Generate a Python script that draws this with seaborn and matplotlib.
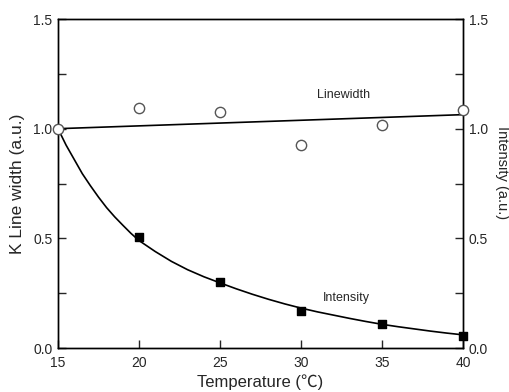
import numpy as np
import pandas as pd
import matplotlib
matplotlib.use("Agg")
import matplotlib.pyplot as plt
from matplotlib.ticker import MultipleLocator
import seaborn as sns

# measured points
temps = [15, 20, 25, 30, 35, 40]
linewidth = [1.00, 1.093, 1.076, 0.924, 1.017, 1.084]
intensity = [1.00, 0.508, 0.302, 0.169, 0.109, 0.056]

# fitted lines
lw_fit_t = [15, 40]
lw_fit = [1.00, 1.064]
int_fit_t = [15, 15.5, 16, 16.5, 17, 17.5, 18, 18.5, 19, 19.5, 20, 21, 22, 23, 24,
             25, 26, 27, 28, 29, 30, 31, 32, 33, 34, 35, 36, 37, 38, 39, 40]
int_fit = [1.00, 0.925, 0.86, 0.795, 0.74, 0.688, 0.64, 0.598, 0.56, 0.523, 0.49,
           0.44, 0.395, 0.357, 0.325, 0.297, 0.27, 0.245, 0.222, 0.201, 0.182,
           0.165, 0.15, 0.135, 0.121, 0.108, 0.097, 0.087, 0.077, 0.068, 0.06]

sns.set_style("ticks")
plt.rcParams['font.family'] = ['Liberation Sans', 'Noto Sans CJK JP', 'DejaVu Sans']

fig = plt.figure(figsize=(5.1, 3.92), dpi=100)
ax = fig.add_axes([0.1137, 0.1122, 0.7943, 0.8393])
ax2 = ax.twinx()

pts = pd.DataFrame({'T': temps, 'lw': linewidth, 'I': intensity})

sns.lineplot(x=lw_fit_t, y=lw_fit, ax=ax, color='black', linewidth=1.2, zorder=2)
sns.lineplot(x=int_fit_t, y=int_fit, ax=ax2, color='black', linewidth=1.2, zorder=2)
ax2.scatter(pts['T'][1:], pts['I'][1:], s=40, marker='s', color='black', zorder=3,
            clip_on=False)
# circles on the twin axes (same 0-1.5 scale) so they sit on top
ax2.scatter(pts['T'], pts['lw'], s=55, facecolor='white', edgecolor='#555555',
            linewidth=1.0, zorder=4, clip_on=False)

for a in (ax, ax2):
    a.set_xlim(15, 40)
    a.set_ylim(0, 1.5)
    a.yaxis.set_major_locator(MultipleLocator(0.5))
    a.yaxis.set_minor_locator(MultipleLocator(0.25))
    a.tick_params(which='both', direction='in', length=6, width=1, labelsize=10, pad=6)
    for s in a.spines.values():
        s.set_linewidth(1.0)
        s.set_color('black')
ax.xaxis.set_major_locator(MultipleLocator(5))
ax.set_yticks([0, 0.5, 1.0, 1.5])
ax.set_yticklabels(['0.0', '0.5', '1.0', '1.5'])
ax2.set_yticks([0, 0.5, 1.0, 1.5])
ax2.set_yticklabels(['0.0', '0.5', '1.0', '1.5'])
ax.tick_params(axis='y', pad=4)
ax2.tick_params(axis='y', pad=4)

ax.set_xlabel('Temperature (℃)', fontsize=12, labelpad=3)
ax.set_ylabel('K Line width (a.u.)', fontsize=12.5, labelpad=6)
fig.text(0.984, 0.561, 'Intensity (a.u.)', fontsize=10.5, rotation=270,
         ha='center', va='center')

ax.text(32.6, 1.154, 'Linewidth', fontsize=9, ha='center', va='center')
ax2.text(32.8, 0.228, 'Intensity', fontsize=9, ha='center', va='center')

fig.savefig('out.png', dpi=100)
